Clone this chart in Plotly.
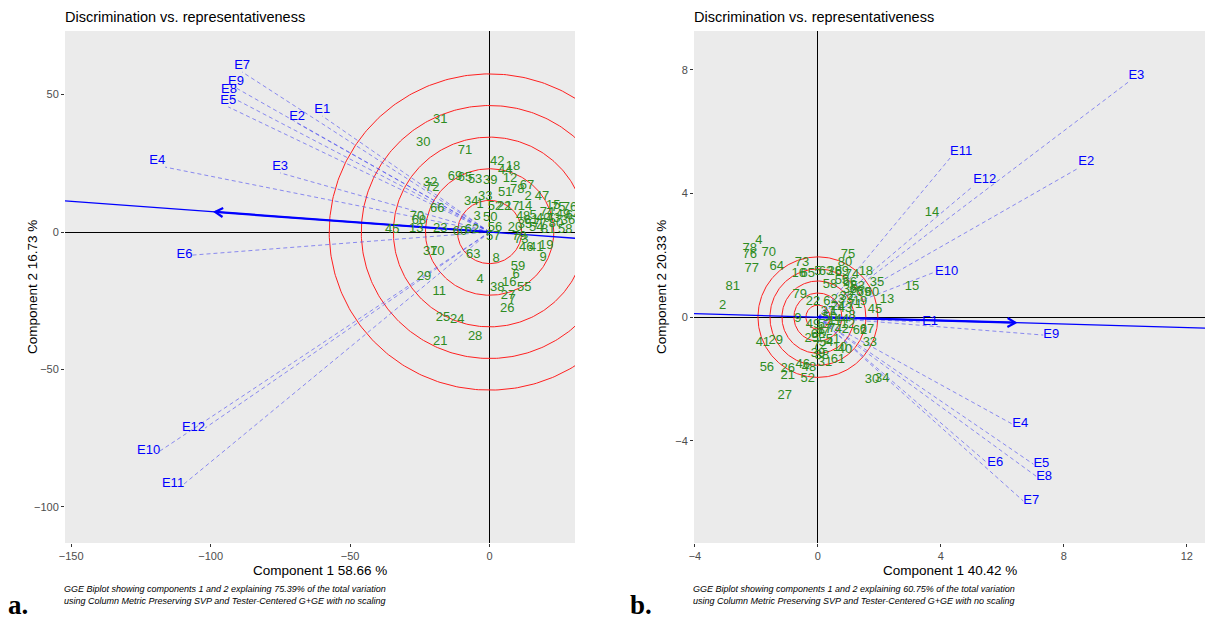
import numpy as np
import plotly.graph_objects as go

W, H = 1206, 621

# ---------------- data ----------------
gen_names = [str(i) for i in range(1, 82)]

# panel a (Component 1 58.66 %, Component 2 16.73 %)
gen_a_x = [-3.4, 13.8, -4.5, -3.4, 15.6, 9.5, 8.1, 2.3, 19.2, -18.8,
           -18.1, 7.3, -26.3, 12.7, 22.8, 7.0, 8.1, 8.4, 20.3, 9.1,
           -17.7, 5.2, -17.7, -11.6, -16.7, 6.3, 6.6, -5.2, -23.5, -23.8,
           -17.7, -21.3, -1.6, -6.6, 12.7, 28.1, -21.3, 2.7, 0.2, 19.2,
           16.7, 2.7, 22.8, 5.6, -34.9, 13.1, 18.8, 12.0, 26.3, 0.2,
           5.6, 1.9, -5.2, 16.7, 12.4, 1.9, 1.3, 27.1, 10.2, -10.6,
           14.9, -6.3, -5.9, 29.9, -8.8, -18.8, 13.4, -25.3, -12.4, -26.0,
           -8.8, -20.6, 11.3, 20.6, 24.6, 28.8, 18.1, 9.9, 10.6, 23.8, 21.0]
gen_a_y = [9.8, 12.7, 5.5, -17.5, 5.8, -15.6, -24.7, -9.8, -9.5, -7.3,
           -21.8, 19.3, 1.1, 9.1, 9.5, -18.5, 9.1, 23.6, -5.1, 1.5,
           -40.0, 9.1, 1.1, -32.0, -31.3, -28.0, -23.3, -38.2, -16.4, 32.4,
           40.7, 17.8, 12.7, 10.9, 2.5, 4.0, -7.3, -20.4, 18.5, 4.7,
           -5.8, 25.5, 4.7, 22.2, 0.7, -5.8, 12.7, 5.5, 6.2, 5.1,
           14.2, 9.1, 18.9, 1.5, -20.4, 1.5, -1.8, 0.7, -12.7, 0.0,
           4.0, 0.7, -8.4, 5.8, 19.6, 8.4, 16.7, 4.0, 20.0, 5.5,
           29.5, 16.0, -2.9, 6.9, 8.7, 8.7, 2.9, 15.3, -1.8, 2.9, 0.7]

env_names = ["E1", "E2", "E3", "E4", "E5", "E6", "E7", "E8", "E9", "E10", "E11", "E12"]
env_a_x = [-60.0, -69.0, -75.1, -116.3, -93.7, -106.5, -88.7, -93.4, -90.9, -118.1, -109.5, -102.0]
env_a_y = [42.2, 39.6, 21.5, 23.6, 45.5, -8.4, 58.2, 49.5, 52.4, -79.6, -91.6, -71.3]
mean_env_a = [-98.4, 7.3]
circle_r_a = [11.5, 23.0, 34.5, 46.0, 57.5]

# panel b (Component 1 40.42 %, Component 2 20.33 %)
gen_b_x = [0.52, -3.10, 1.04, -1.92, 0.00, 0.29, 0.46, 1.11, -0.65, 0.72,
           0.55, 0.98, 2.25, 3.71, 3.06, -0.62, 0.23, 1.56, 1.37, 1.24,
           -0.98, -0.16, 0.65, 0.65, -0.20, -0.98, -1.08, 0.55, -1.37, 1.76,
           0.23, 0.94, 1.69, 2.09, 1.92, 1.04, 0.33, 0.13, 0.00, 0.88,
           -1.79, 0.78, 0.88, 0.78, 1.86, -0.49, 0.13, -0.29, -0.16, 0.39,
           0.49, -0.33, 1.30, 0.26, 0.78, -1.66, 0.23, 0.39, 1.50, 1.76,
           0.65, 1.37, 0.26, -1.34, -0.33, 1.04, 1.60, 0.00, 0.78, -1.60,
           1.21, 0.07, -0.52, 1.11, 0.98, -2.22, -2.15, -2.22, -0.59, 0.88, -2.77]
gen_b_y = [0.16, 0.36, 0.55, 2.46, 1.46, 0.49, -0.36, 0.03, -0.06, -1.00,
           -0.16, -0.26, 0.55, 3.37, 0.97, 1.42, -0.42, 1.46, 0.49, 0.81,
           -1.91, 0.49, 0.55, 0.32, -0.71, -1.68, -2.56, 1.46, -0.78, -2.04,
           -1.49, 0.65, -0.84, -2.01, 1.10, 0.87, 0.16, -1.26, -1.17, -1.07,
           -0.84, -0.42, 0.26, -0.10, 0.23, -1.55, -0.49, -1.65, -0.26, -0.03,
           -0.74, -2.01, 0.97, -0.84, 1.17, -1.65, -0.26, 1.04, 0.78, 0.78,
           -1.39, -0.45, 1.46, 1.62, 1.42, 1.10, -0.42, -0.58, 1.46, 2.07,
           0.39, -0.91, 1.75, 1.36, 2.01, 2.01, 1.55, 2.20, 0.71, 1.75, 0.97]

env_b_x = [3.39, 8.47, 10.10, 6.32, 7.01, 5.51, 6.68, 7.10, 7.33, 3.81, 4.30, 5.05]
env_b_y = [-0.16, 4.82, 7.61, -3.46, -4.76, -4.72, -5.95, -5.15, -0.58, 1.46, 5.15, 4.24]
mean_env_b = [6.42, -0.18]
circle_r_b = [0.39, 0.78, 1.17, 1.56, 1.95]

title_text = "Discrimination vs. representativeness"
xtitle_a, ytitle_a = "Component 1 58.66 %", "Component 2 16.73 %"
xtitle_b, ytitle_b = "Component 1 40.42 %", "Component 2 20.33 %"
foot_a = ["GGE Biplot showing components 1 and 2 explaining 75.39% of the total variation",
          "using Column Metric Preserving SVP and Tester-Centered G+GE with no scaling"]
foot_b = ["GGE Biplot showing components 1 and 2 explaining 60.75% of the total variation",
          "using Column Metric Preserving SVP and Tester-Centered G+GE with no scaling"]

xticks_a, yticks_a = [-150, -100, -50, 0], [-100, -50, 0, 50]
xticks_b, yticks_b = [-4, 0, 4, 8, 12], [-4, 0, 4, 8]

# ---------------- layout / style ----------------
FONT = "Liberation Sans, Arial, sans-serif"
dom_y = [1 - 543 / H, 1 - 31 / H]
dom_xa = [65 / W, 575 / W]
dom_xb = [694 / W, 1205 / W]
rng_xa, rng_ya = [-152.2, 30.6], [-113.1, 73.1]
rng_xb, rng_yb = [-4.03, 12.59], [-7.31, 9.26]

pos_a = ["top center", "top center", "top center", "top left", "top center", "middle left",
         "top center", "top center", "top center", "middle left", "middle left", "middle left"]
pos_b = ["middle right", "top right", "top right", "middle right", "middle right", "middle right",
         "middle right", "middle right", "middle right", "middle right", "top right", "top right"]

GREEN = "#2E8B22"
BLUE = "#0000FF"
DASH_BLUE = "rgba(70,70,240,0.6)"
RED = "#FF2020"

fig = go.Figure()


def add_panel(xr, yr, gx, gy, ex, ey, epos, mean, radii, dx, dy, rx, ry):
    sx = (dx[1] - dx[0]) * W / (rx[1] - rx[0])
    sy = (dy[1] - dy[0]) * H / (ry[1] - ry[0])
    th = np.linspace(0, 2 * np.pi, 361)
    # concentric circles
    for r in radii:
        fig.add_trace(go.Scatter(x=r * np.cos(th), y=r * np.sin(th), mode="lines",
                                 line=dict(color=RED, width=1), xaxis=xr, yaxis=yr,
                                 hoverinfo="skip", showlegend=False))
    # environment vectors
    for x1, y1 in zip(ex, ey):
        fig.add_trace(go.Scatter(x=[0, x1], y=[0, y1], mode="lines",
                                 line=dict(color=DASH_BLUE, width=1, dash="4px,3px"),
                                 xaxis=xr, yaxis=yr, hoverinfo="skip", showlegend=False))
    # average environment axis
    mx, my = mean
    fig.add_trace(go.Scatter(x=[-3 * mx, 3 * mx], y=[-3 * my, 3 * my], mode="lines",
                             line=dict(color=BLUE, width=1.3), xaxis=xr, yaxis=yr,
                             hoverinfo="skip", showlegend=False))
    fig.add_trace(go.Scatter(x=[0, mx], y=[0, my], mode="lines",
                             line=dict(color=BLUE, width=2.2), xaxis=xr, yaxis=yr,
                             hoverinfo="skip", showlegend=False))
    # open arrow head
    px, py = mx * sx, my * sy
    n = np.hypot(px, py)
    ux, uy = px / n, py / n
    L, ang = 9.0, np.deg2rad(30)
    hx, hy = [], []
    for s in (1, -1):
        c, si = np.cos(s * ang), np.sin(s * ang)
        bx = -(ux * c - uy * si)
        by = -(ux * si + uy * c)
        hx.append(mx + L * bx / sx)
        hy.append(my + L * by / sy)
    fig.add_trace(go.Scatter(x=[hx[0], mx, hx[1]], y=[hy[0], my, hy[1]], mode="lines",
                             line=dict(color=BLUE, width=2.2), xaxis=xr, yaxis=yr,
                             hoverinfo="skip", showlegend=False))
    # genotype labels
    fig.add_trace(go.Scatter(x=gx, y=gy, mode="text", text=gen_names,
                             textfont=dict(color=GREEN, size=13, family=FONT),
                             xaxis=xr, yaxis=yr, hoverinfo="skip", showlegend=False))
    # environment labels
    fig.add_trace(go.Scatter(x=ex, y=ey, mode="text", text=env_names, textposition=epos,
                             textfont=dict(color=BLUE, size=13, family=FONT),
                             xaxis=xr, yaxis=yr, hoverinfo="skip", showlegend=False,
                             cliponaxis=False))


add_panel("x", "y", gen_a_x, gen_a_y, env_a_x, env_a_y, pos_a, mean_env_a, circle_r_a,
          dom_xa, dom_y, rng_xa, rng_ya)
add_panel("x2", "y2", gen_b_x, gen_b_y, env_b_x, env_b_y, pos_b, mean_env_b, circle_r_b,
          dom_xb, dom_y, rng_xb, rng_yb)

axis_common = dict(showgrid=False, zeroline=True, zerolinecolor="black", zerolinewidth=1,
                   ticks="outside", ticklen=3, tickwidth=1, tickcolor="#333333",
                   tickfont=dict(size=11, color="#4D4D4D", family=FONT),
                   showline=False, fixedrange=True, automargin=False)

fig.update_layout(
    width=W, height=H,
    margin=dict(l=0, r=0, t=0, b=0, pad=0),
    paper_bgcolor="white", plot_bgcolor="#EBEBEB",
    font=dict(family=FONT),
    xaxis=dict(domain=dom_xa, range=rng_xa, tickvals=xticks_a, anchor="y", **axis_common),
    yaxis=dict(domain=dom_y, range=rng_ya, tickvals=yticks_a, anchor="x", **axis_common),
    xaxis2=dict(domain=dom_xb, range=rng_xb, tickvals=xticks_b, anchor="y2", **axis_common),
    yaxis2=dict(domain=dom_y, range=rng_yb, tickvals=yticks_b, anchor="x2", **axis_common),
)

ann = []
panels = [(dom_xa, xtitle_a, ytitle_a, foot_a, "a.", 6),
          (dom_xb, xtitle_b, ytitle_b, foot_b, "b.", 628)]
for dom, xt, yt, ft, lab, xlab in panels:
    x0 = dom[0] * W
    ann.append(dict(text=title_text, x=(x0 - 2) / W, y=1 - 17 / H, xref="paper", yref="paper",
                    xanchor="left", yanchor="middle", showarrow=False,
                    font=dict(size=14.5, color="black", family=FONT)))
    ann.append(dict(text=xt, x=(dom[0] + dom[1]) / 2, y=1 - 570 / H, xref="paper", yref="paper",
                    xanchor="center", yanchor="middle", showarrow=False,
                    font=dict(size=13.5, color="black", family=FONT)))
    ann.append(dict(text=yt, x=(x0 - 33) / W, y=(dom_y[0] + dom_y[1]) / 2, xref="paper", yref="paper",
                    xanchor="center", yanchor="middle", showarrow=False, textangle=-90,
                    font=dict(size=13.5, color="black", family=FONT)))
    ann.append(dict(text="<br>".join("<i>" + s + "</i>" for s in ft), x=(x0 - 3) / W, y=1 - 595 / H,
                    xref="paper", yref="paper", xanchor="left", yanchor="middle",
                    showarrow=False, align="left",
                    font=dict(size=9, color="black", family=FONT)))
    ann.append(dict(text="<b>" + lab + "</b>", x=xlab / W, y=1 - 605 / H, xref="paper", yref="paper",
                    xanchor="left", yanchor="middle", showarrow=False,
                    font=dict(size=27, color="black", family="Liberation Serif, Times New Roman, serif")))
fig.update_layout(annotations=ann)

fig.write_html("out.html")
